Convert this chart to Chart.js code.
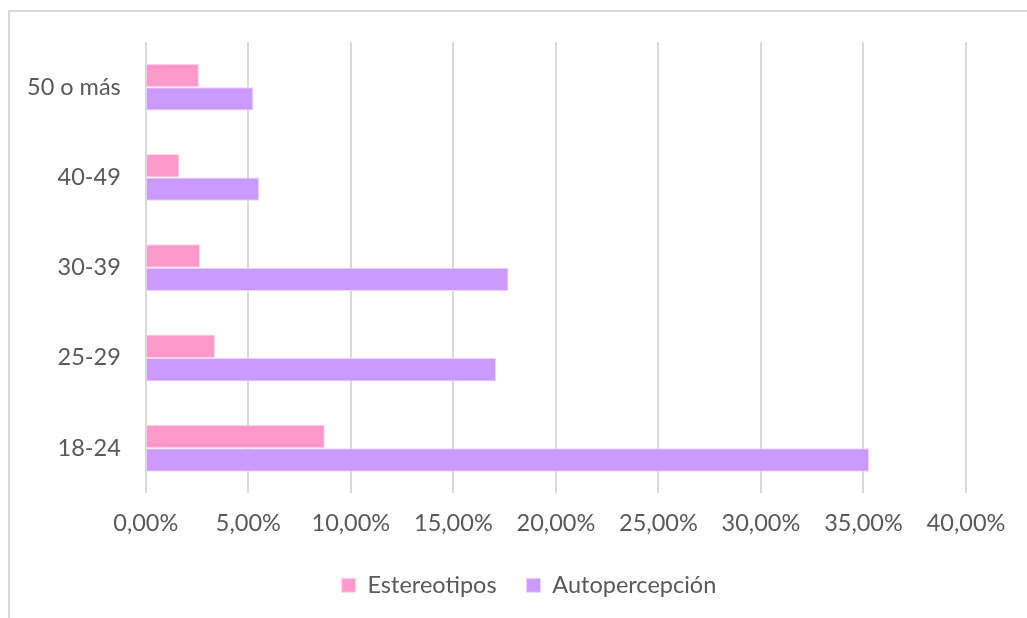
<!DOCTYPE html>
<html><head><meta charset="utf-8">
<script src="https://cdn.jsdelivr.net/npm/chart.js@4"></script>
<style>
html,body{margin:0;padding:0;background:#fff;overflow:hidden}
#frame{position:absolute;left:8px;top:10px;width:1100px;height:700px;border-left:2px solid #d9d9d9;border-top:2px solid #d9d9d9}
#wrap{position:absolute;left:0;top:0;width:1027px;height:618px}
</style></head><body>
<div id="frame"></div>
<div id="wrap"><canvas id="c"></canvas></div>
<script>
const categories = ['18-24', '25-29', '30-39', '40-49', '50 o más'];
const seriesNames = ['Estereotipos', 'Autopercepción'];
const estereotipos = [8.73, 3.38, 2.65, 1.64, 2.59];
const autopercepcion = [35.28, 17.09, 17.69, 5.53, 5.25];
const xTickValues = [0, 5, 10, 15, 20, 25, 30, 35, 40];

const fmt = v => v.toFixed(2).replace('.', ',') + '%';
const font = {family: 'Lato', size: 23.5};

const shiftLegend = {
  id: 'shiftLegend',
  afterLayout(chart) {
    const l = chart.legend;
    if (l) { l.left += 45; l.right += 45; }
  }
};

new Chart(document.getElementById('c'), {
  type: 'bar',
  data: {
    labels: categories,
    datasets: [
      {label: seriesNames[0], data: estereotipos, backgroundColor: '#FF99CC', borderColor: '#FFD6EB', borderWidth: 1, categoryPercentage: 0.52, barPercentage: 1},
      {label: seriesNames[1], data: autopercepcion, backgroundColor: '#CC99FF', borderColor: '#EBD6FF', borderWidth: 1, categoryPercentage: 0.52, barPercentage: 1}
    ]
  },
  plugins: [shiftLegend],
  options: {
    indexAxis: 'y',
    responsive: true,
    maintainAspectRatio: false,
    animation: false,
    layout: {padding: {left: 2, right: 61, top: 42, bottom: 11}},
    scales: {
      x: {
        min: 0, max: 40,
        afterBuildTicks: s => { s.ticks = xTickValues.map(v => ({value: v})); },
        afterFit: s => { s.height -= 10; },
        ticks: {callback: v => fmt(v), color: '#595959', font: font, padding: 16, maxRotation: 0},
        grid: {color: '#d9d9d9', lineWidth: 2, drawTicks: false},
        border: {display: false}
      },
      y: {
        reverse: true,
        ticks: {color: '#595959', font: font, padding: 25},
        grid: {display: false, drawTicks: false},
        border: {display: false}
      }
    },
    plugins: {
      legend: {
        position: 'bottom',
        labels: {color: '#595959', font: font, boxWidth: 14, boxHeight: 14, padding: 30}
      },
      tooltip: {enabled: false}
    }
  }
});
</script>
</body></html>
